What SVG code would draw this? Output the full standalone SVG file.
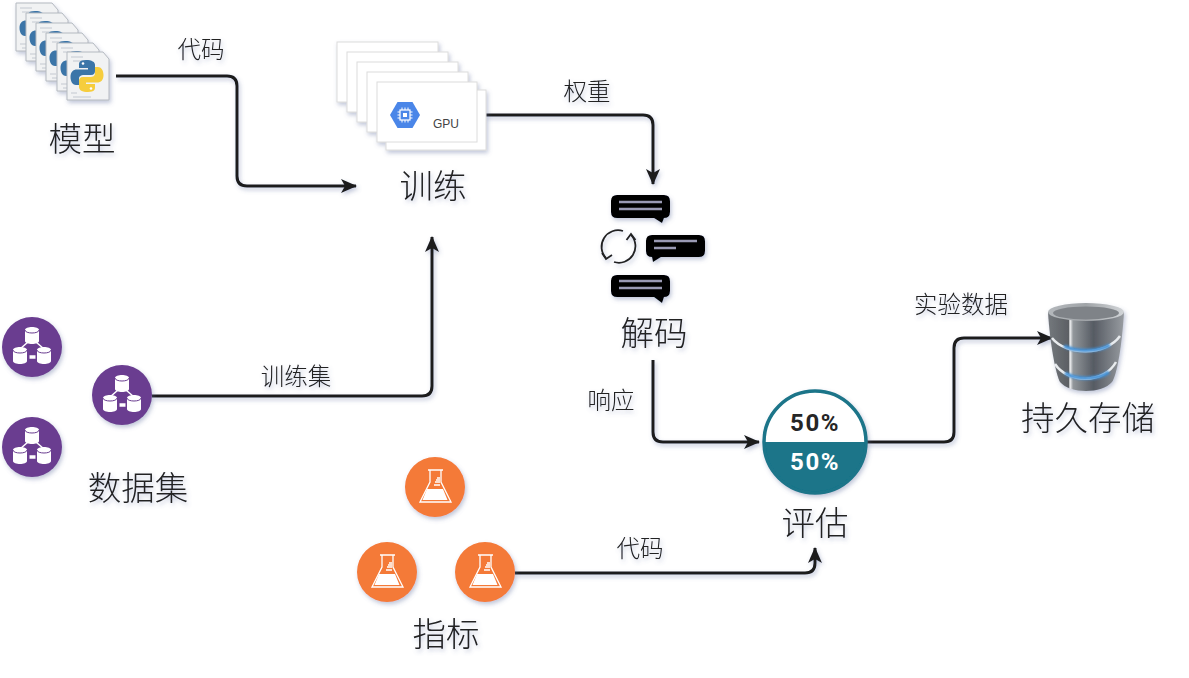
<svg xmlns="http://www.w3.org/2000/svg" width="1189" height="678" viewBox="0 0 1189 678">
<style>
text{font-family:"Noto Sans CJK SC","Liberation Sans",sans-serif;fill:#222;text-anchor:middle}
.big{font-size:33.500px;font-weight:300}
.small{font-size:23.500px;font-weight:300}
.conn{fill:none;stroke:#1c1c1c;stroke-width:3}
.card{fill:#fff;stroke:#dcdcdc;stroke-width:1}
.chat{fill:#020203}
.chatline{stroke:#9a9ab4;stroke-width:2.500;fill:none}
.pct{font-family:Roboto,"Liberation Sans",sans-serif;font-size:24px;font-weight:700;letter-spacing:1.500px}
.w{fill:#fff}
.fl{fill:none;stroke:#fff;stroke-width:1.300}
.pl{stroke:#b9bec6;stroke-width:.8}
</style>
<defs>
<filter id="sh" x="-30%" y="-30%" width="170%" height="170%"><feDropShadow dx="1.500" dy="2.500" stdDeviation="2" flood-color="#5a6c9c" flood-opacity=".38"/></filter>
<filter id="blur" x="-20%" y="-80%" width="140%" height="260%"><feGaussianBlur stdDeviation="1.200"/></filter>
<marker id="arr" viewBox="0 0 16 14" refX="15" refY="7" markerWidth="16" markerHeight="14" markerUnits="userSpaceOnUse" orient="auto"><path d="M0 0L16 7L0 14L4 7Z" fill="#1c1c1c"/></marker>
<linearGradient id="bar" x1="0" x2="1" y1="0" y2="0"><stop offset="0" stop-color="#74787d"/><stop offset=".27" stop-color="#5c6064"/><stop offset=".29" stop-color="#f2f3f4"/><stop offset=".33" stop-color="#92979b"/><stop offset=".6" stop-color="#565b63"/><stop offset="1" stop-color="#989ca1"/></linearGradient>
<linearGradient id="lid" x1="0" x2="1" y1="0" y2="0"><stop offset="0" stop-color="#b4b8bc"/><stop offset=".5" stop-color="#a0a4a8"/><stop offset="1" stop-color="#d2d5d8"/></linearGradient>
<g id="page">
<path d="M0 0H36L42 7V48H0Z" fill="#f1f2f3" stroke="#b4b9c0" stroke-width="1"/>
<path d="M4 5H16M6 9H20M4 41H10M6 45H24" class="pl"/>
<g transform="translate(20 24)">
<path d="M-1-16C-8-16-8-13-8-11V-8H1V-6.500H-10C-14-6.500-16.500-4-16.500 1C-16.500 6-14 9-11 9H-8V3C-8 0-6-1-3-1H4C7-1 8-3 8-5V-11C8-14 5-16-1-16Z" fill="#3b75a8"/>
<circle cx="-4" cy="-12.500" r="1.300" fill="#fff"/>
<path d="M1 16C8 16 8 13 8 11V8H-1V6.500H10C14 6.500 16.500 4 16.500-1C16.500-6 14-9 11-9H8V-3C8 0 6 1 3 1H-4C-7 1-8 3-8 5V11C-8 14-5 16 1 16Z" fill="#f6cd3e"/>
<circle cx="4" cy="12.500" r="1.300" fill="#fff"/>
</g>
</g>
<g id="db">
<circle r="30" fill="#6a3d90"/>
<path d="M-12 2L-4-5M12 2L4-5" stroke="#fff" stroke-width="1.500" fill="none"/>
<path d="M-2.500 10H3.500" stroke="#fff" stroke-width="3.500" fill="none"/>
<path d="M-7-17C-7-21 7-21 7-17V-6C7-2-7-2-7-6Z" class="w"/>
<path d="M-7-17C-7-13 7-13 7-17" fill="none" stroke="#6a3d90" stroke-width="1"/>
<path d="M-19 3C-19-1-5-1-5 3V14C-5 18-19 18-19 14Z" class="w"/>
<path d="M-19 3C-19 7-5 7-5 3" fill="none" stroke="#6a3d90" stroke-width="1"/>
<path d="M5 3C5-1 19-1 19 3V14C19 18 5 18 5 14Z" class="w"/>
<path d="M5 3C5 7 19 7 19 3" fill="none" stroke="#6a3d90" stroke-width="1"/>
</g>
<g id="flask">
<circle r="30" fill="#f47a38"/>
<path d="M-7-17H8M-5-17V-5L-15 15H16L6-5V-17" class="fl"/>
<path d="M-8 2H8L12.500 13H-12.500Z" class="w"/>
<path d="M-1-2H5M0-5H5M1-7H5M2-9H5" class="fl" stroke-width="1"/>
</g>
</defs>

<g id="connectors" filter="url(#sh)">
<path class="conn" marker-end="url(#arr)" d="M116 76H227Q237 76 237 86V176Q237 186 247 186H356"/>
<path class="conn" marker-end="url(#arr)" d="M485 115H643Q653 115 653 125V184"/>
<path class="conn" marker-end="url(#arr)" d="M152 396H422Q432 396 432 386V237"/>
<path class="conn" marker-end="url(#arr)" d="M653 360V432Q653 442 663 442H759"/>
<path class="conn" marker-end="url(#arr)" d="M866 442H944Q954 442 954 432V348Q954 338 964 338H1052"/>
<path class="conn" marker-end="url(#arr)" d="M515 573H805Q815 573 815 563V548"/>
</g>

<g id="node-model">
<g filter="url(#sh)">
<use href="#page" x="16" y="3"/><use href="#page" x="26" y="13"/><use href="#page" x="36" y="23"/><use href="#page" x="46" y="33"/><use href="#page" x="57" y="43"/><use href="#page" x="67" y="52"/>
</g>
<text class="big" x="82" y="151" filter="url(#sh)">模型</text>
</g>

<g id="node-train">
<g filter="url(#sh)">
<rect class="card" x="337" y="42" width="101" height="60"/>
<rect class="card" x="347" y="52" width="101" height="60"/>
<rect class="card" x="357" y="62" width="101" height="60"/>
<rect class="card" x="367" y="72" width="101" height="60"/>
<rect class="card" x="386" y="90" width="100" height="60"/>
<rect class="card" x="377" y="82" width="100" height="60" stroke="#c4c4c4"/>
</g>
<path d="M390 115L397.500 102H412.500L420 115L412.500 128H397.500Z" fill="#4a86e8"/>
<rect x="400" y="110" width="10" height="10" fill="none" stroke="#fff" stroke-width="1.200"/>
<rect x="403" y="113" width="4" height="4" fill="#fff"/>
<path d="M402 107.500V110M405 107.500V110M408 107.500V110M402 120V122.500M405 120V122.500M408 120V122.500M397.500 112H400M397.500 115H400M397.500 118H400M410 112H412.500M410 115H412.500M410 118H412.500" stroke="#fff" stroke-width="1"/>
<text x="446" y="128" style="font-family:'Liberation Sans',sans-serif;font-size:12px;fill:#444">GPU</text>
<text class="big" x="433" y="198" filter="url(#sh)">训练</text>
</g>

<g id="node-decode">
<g filter="url(#sh)">
<path class="chat" d="M617 195H664Q670 195 670 201V212Q670 218 664 218L662 223L654 218H617Q611 218 611 212V201Q611 195 617 195Z"/>
<path class="chat" d="M652 235H699Q705 235 705 241V251Q705 257 699 257H661L653 262L652 257Q646 257 646 251V241Q646 235 652 235Z"/>
<path class="chat" d="M617 275H664Q670 275 670 281V291Q670 297 664 297L662 303L654 297H617Q611 297 611 291V281Q611 275 617 275Z"/>
</g>
<path class="chatline" d="M619 202H662M619 209H662M654 241H697M654 248H676M619 281H662M619 288H662"/>
<g fill="none" stroke="#222" stroke-width="1.800" filter="url(#sh)">
<path d="M623 231A16.500 16.500 0 0 0 606 258"/>
<path d="M614 262A16.500 16.500 0 0 0 631 235"/>
<path d="M602 253L606 259L612 255M626.500 240L631 234L635.500 240"/>
</g>
<text class="big" x="654" y="345" filter="url(#sh)">解码</text>
</g>

<g id="node-eval">
<g filter="url(#sh)">
<circle cx="815" cy="442" r="52" fill="#fff"/>
<path d="M763 442A52 52 0 0 0 867 442Z" fill="#1a7489"/>
<circle cx="815" cy="442" r="51" fill="none" stroke="#1a7489" stroke-width="3.500"/>
</g>
<text class="pct" x="815" y="431" style="fill:#262626">50%</text>
<text class="pct" x="815" y="470" style="fill:#fff">50%</text>
<text class="big" x="815" y="535" filter="url(#sh)">评估</text>
</g>

<g id="node-storage">
<g filter="url(#sh)">
<path d="M1048 312C1050 345 1056 375 1060 382C1070 394 1102 394 1112 382C1117 375 1122 345 1124 312Z" fill="url(#bar)"/>
<ellipse cx="1086" cy="312" rx="38" ry="9" fill="url(#lid)"/>
<ellipse cx="1086" cy="313" rx="33" ry="6.500" fill="#7f8388"/>
</g>
<path d="M1052 338C1066 356 1106 356 1120 336" fill="none" stroke="#e8ebee" stroke-width="2.500"/>
<path d="M1064 346C1076 352 1098 352 1110 345" fill="none" stroke="#3f8fd6" stroke-width="3.500" filter="url(#blur)"/>
<path d="M1055 364C1068 384 1104 384 1116 362" fill="none" stroke="#e8ebee" stroke-width="2.500"/>
<path d="M1065 373C1076 380 1098 380 1109 372" fill="none" stroke="#3f8fd6" stroke-width="3.500" filter="url(#blur)"/>
<text class="big" x="1088" y="430" filter="url(#sh)">持久存储</text>
</g>

<g id="node-dataset">
<g filter="url(#sh)">
<use href="#db" x="32" y="347"/><use href="#db" x="122" y="395"/><use href="#db" x="32" y="447"/>
</g>
<text class="big" x="138" y="500" filter="url(#sh)">数据集</text>
</g>

<g id="node-metric">
<g filter="url(#sh)">
<use href="#flask" x="435" y="487"/><use href="#flask" x="387" y="572"/><use href="#flask" x="485" y="572"/>
</g>
<text class="big" x="446" y="646" filter="url(#sh)">指标</text>
</g>

<g id="labels" filter="url(#sh)">
<text class="small" x="201" y="58">代码</text>
<text class="small" x="587" y="100">权重</text>
<text class="small" x="961" y="313">实验数据</text>
<text class="small" x="611" y="409">响应</text>
<text class="small" x="296" y="385">训练集</text>
<text class="small" x="640" y="557">代码</text>
</g>
</svg>
